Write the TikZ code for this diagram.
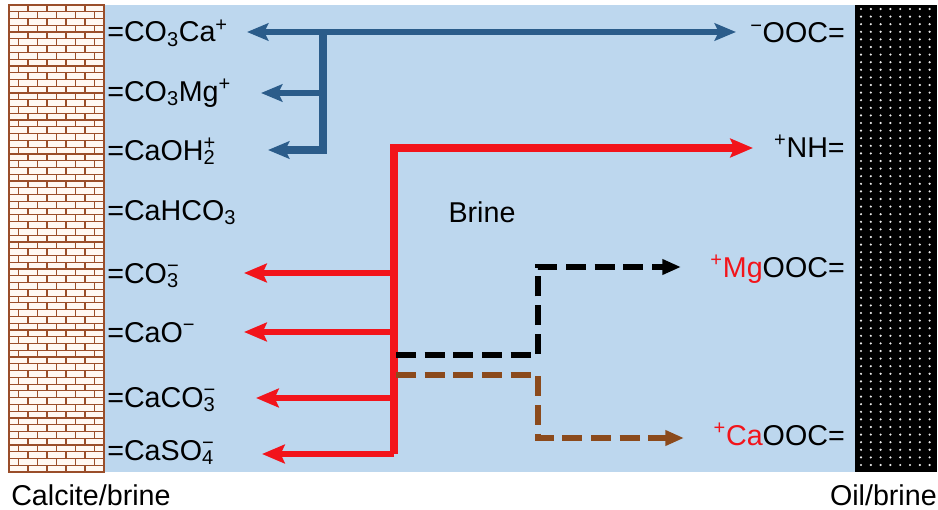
\documentclass[tikz,border=0pt]{standalone}
\usepackage{fontspec}
\setmainfont{Liberation Sans}
\usepackage{tikz}
\usetikzlibrary{arrows.meta}
\definecolor{brineblue}{HTML}{BDD7EE}
\definecolor{arblue}{HTML}{2B5C8A}
\definecolor{arred}{HTML}{F2141B}
\definecolor{arbrown}{HTML}{8B4A1C}
\definecolor{brickline}{HTML}{9A4E2A}
\definecolor{brickfill}{HTML}{FFF8F2}
\newcommand{\subsup}[2]{\makebox[0pt][l]{\textsuperscript{#2}}\textsubscript{#1}}

\begin{document}
\begin{tikzpicture}[x=0.75pt,y=-0.75pt,
   lbl/.style={font=\fontsize{21.5}{24}\selectfont,inner sep=0pt},
   blu/.style={arblue,line width=4.2pt,line join=miter,
               -{Stealth[length=16pt,width=13pt,inset=3pt]}},
   red/.style={arred,line width=5pt,line join=miter,
               -{Stealth[length=17pt,width=14pt,inset=3pt]}},
   dsh/.style={line width=5pt,line join=miter,dash pattern=on 15pt off 6.5pt,
               -{Triangle[length=14pt,width=11pt]}}]
  \useasboundingbox (0,0) rectangle (938,510);
  % brine and walls
  \fill[brineblue] (104,5) rectangle (855,472);
  \fill[brickfill] (9,5) rectangle (104,472);
  \foreach \r in {0,...,68} {
    \pgfmathsetmacro\yy{5+\r*6.77}
    \pgfmathsetmacro\off{mod(\r,2)*9.5}
    \draw[brickline,line width=0.9pt] (9,\yy) -- (104,\yy);
    \foreach \k in {0,...,4}
      \draw[brickline,line width=0.9pt] ({9+\off+\k*19},\yy) -- ++(0,6.77);
  }
  \draw[brickline,line width=1.6pt] (9,5) rectangle (104,472);
  \fill[black] (855,5) rectangle (937,472);
  \foreach \i in {0,...,7}
    \foreach \j in {0,...,60}
      \fill[white!85!gray] ({861+\i*9.8},{9+\j*7.6}) circle (0.9pt);

  % surface sites
  \node[lbl,anchor=base west] (co3ca) at (107,42) {=CO\textsubscript{3}Ca\textsuperscript{+}};
  \node[lbl,anchor=base west] (co3mg) at (107,101) {=CO\textsubscript{3}Mg\textsuperscript{+}};
  \node[lbl,anchor=base west] (caoh) at (107,160) {=CaOH\subsup{2}{+}};
  \node[lbl,anchor=base west] (cahco) at (107,220) {=CaHCO\textsubscript{3}};
  \node[lbl,anchor=base west] (co3) at (107,283) {=CO\subsup{3}{−}};
  \node[lbl,anchor=base west] (cao) at (107,342) {=CaO\textsuperscript{−}};
  \node[lbl,anchor=base west] (caco) at (107,407) {=CaCO\subsup{3}{−}};
  \node[lbl,anchor=base west] (caso) at (107,460) {=CaSO\subsup{4}{−}};
  \node[lbl,anchor=base east] (ooc) at (845,43) {\textsuperscript{−}OOC=};
  \node[lbl,anchor=base east] (nh) at (845,157) {\textsuperscript{+}NH=};
  \node[lbl,anchor=base east] (mgooc) at (845,277) {\textcolor{arred}{\textsuperscript{+}Mg}OOC=};
  \node[lbl,anchor=base east] (caooc) at (845,445) {\textcolor{arred}{\textsuperscript{+}Ca}OOC=};
  \node[lbl,anchor=base] (brine) at (482,222) {Brine};
  \node[lbl,anchor=base west] (calcite) at (11,505) {Calcite/brine};
  \node[lbl,anchor=base east] (oil) at (937,505) {Oil/brine};

  % blue bonds
  \coordinate (bJ1) at (323,32);
  \coordinate (bJ2) at (323,93);
  \coordinate (bJ3) at (323,150);
  \draw[blu,{Stealth[length=16pt,width=13pt,inset=3pt]}-{Stealth[length=16pt,width=13pt,inset=3pt]}]
    (247,32) coordinate (bL1) -- (736,32) coordinate (bR);
  \draw[blu] (bJ2) -- (261,93) coordinate (bL2);
  \draw[blu,line width=5.5pt] (bJ1) -- (bJ3) -- (268,150) coordinate (bL3);

  % red bonds
  \coordinate (rTop) at (394,148);
  \coordinate (rBot) at (394,454);
  \draw[red,line width=5.5pt] (rBot) -- (rTop) -- (753,148) coordinate (rR);
  \foreach \yy/\xx in {273/244,332/244,398/256}
    \draw[red] (394,\yy) -- (\xx,\yy);
  \draw[red] (rBot) -- (262,454);

  % dashed bonds
  \coordinate (kS) at (396,355);
  \coordinate (kC1) at (538,355);
  \coordinate (kC2) at (538,267);
  \draw[dsh,black] (kS) -- (kC1) -- (kC2) -- (681,267) coordinate (kR);
  \coordinate (nS) at (396,375);
  \coordinate (nC1) at (538,375);
  \coordinate (nC2) at (538,438);
  \draw[dsh,arbrown] (nS) -- (nC1) -- (nC2) -- (684,438) coordinate (nR);
\end{tikzpicture}
\end{document}
